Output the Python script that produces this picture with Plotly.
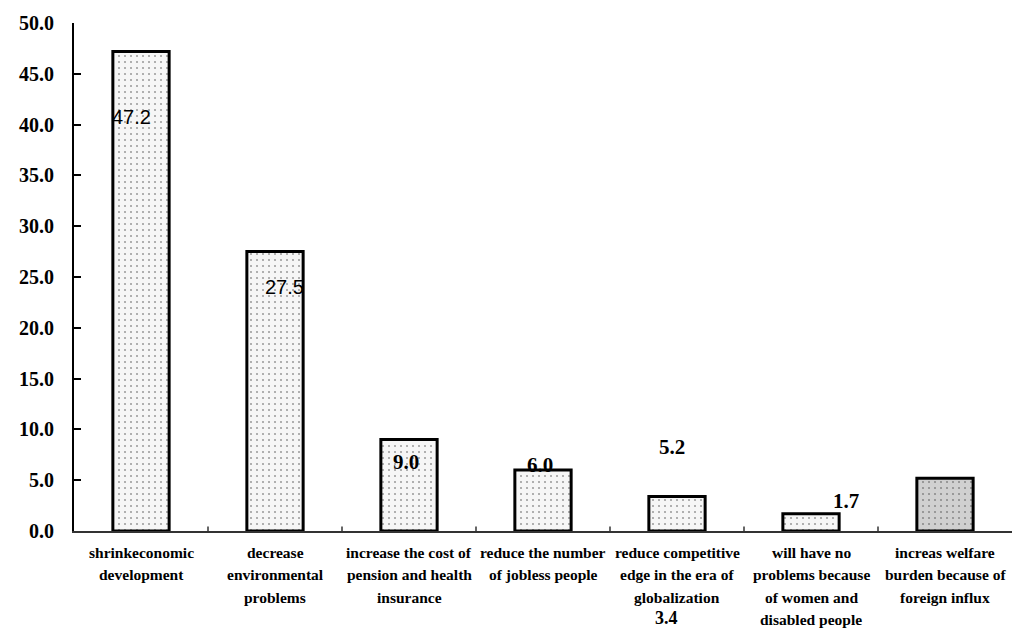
import plotly.graph_objects as go

# Survey responses: expected consequences (percent of respondents)
categories = [
    "shrinkeconomic<br>development",
    "decrease<br>environmental<br>problems",
    "increase the cost of<br>pension and health<br>insurance",
    "reduce the number<br>of jobless people",
    "reduce competitive<br>edge in the era of<br>globalization",
    "will have no<br>problems because<br>of women and<br>disabled people",
    "increas welfare<br>burden because of<br>foreign influx",
]
values = [47.2, 27.5, 9.0, 6.0, 3.4, 1.7, 5.2]
y_ticks = [0, 5, 10, 15, 20, 25, 30, 35, 40, 45, 50]
Y_MAX = 50

# value labels: (bar index, label y position, x offset in category units, font family, size, y anchor)
label_pos = [
    (0, 40.7, -0.07, "Liberation Sans", 20, "middle"),
    (1, 24.0, 0.07, "Liberation Sans", 20, "middle"),
    (2, 6.8, -0.02, "Liberation Serif", 21, "middle"),
    (3, 6.5, -0.02, "Liberation Serif", 21, "middle"),
    (4, -9.62, -0.08, "Liberation Serif", 18, "bottom"),
    (5, 3.0, 0.26, "Liberation Serif", 21, "middle"),
    (6, 8.3, -2.04, "Liberation Serif", 21, "middle"),
]

fills = ["#f6f6f6"] * 6 + ["#d0d0d0"]

fig = go.Figure()
fig.add_trace(go.Bar(
    x=list(range(len(categories))),
    y=values,
    width=0.42,
    marker=dict(
        color=fills,
        line=dict(color="black", width=3),
        pattern=dict(shape=".", fgcolor="#a0a0a0", size=6, solidity=0.1),
    ),
    showlegend=False,
))

for idx, ypos, dx, fam, size, anchor in label_pos:
    bold = fam == "Liberation Serif"
    txt = f"{values[idx]:.1f}"
    fig.add_annotation(
        x=idx + dx, y=ypos / Y_MAX, xref="x", yref="paper",
        xanchor="center", yanchor=anchor, borderpad=0,
        text=f"<b>{txt}</b>" if bold else txt,
        showarrow=False,
        font=dict(family=fam, size=size, color="black"),
    )

# category labels, one annotation per line for wider line spacing
LINE_PX = 22.5
for i, cat in enumerate(categories):
    for k, line in enumerate(cat.split("<br>")):
        fig.add_annotation(
            x=i, y=0, xref="x", yref="paper",
            xanchor="center", yanchor="middle", yshift=-(21 + k * LINE_PX),
            borderpad=0,
            text=f"<b>{line}</b>", showarrow=False,
            font=dict(family="Liberation Serif", size=15.5, color="black"),
        )

fig.update_layout(
    width=1012, height=629,
    margin=dict(l=74, r=0, t=23, b=98),
    paper_bgcolor="white", plot_bgcolor="white",
    bargap=0.58,
)
fig.update_xaxes(
    range=[-0.5, 6.5],
    showticklabels=False,
    showline=True, linecolor="#333333", linewidth=2,
    ticks="", showgrid=False, zeroline=False,
)
fig.update_yaxes(
    range=[0, Y_MAX],
    tickmode="array",
    tickvals=y_ticks,
    ticktext=[f"<b>{v:.1f}</b>" for v in y_ticks],
    tickfont=dict(family="Liberation Serif", size=20, color="black"),
    ticks="inside", ticklen=7, tickwidth=1.5, tickcolor="black",
    ticklabelstandoff=14,
    showline=True, linecolor="black", linewidth=2,
    showgrid=False, zeroline=False,
)

# small boundary ticks along the category axis
for b in range(1, len(categories)):
    fig.add_shape(type="line", xref="x", yref="y",
                  x0=b - 0.5, x1=b - 0.5, y0=0, y1=0.45,
                  line=dict(color="#333333", width=1.5))

fig.write_html("out.html")
